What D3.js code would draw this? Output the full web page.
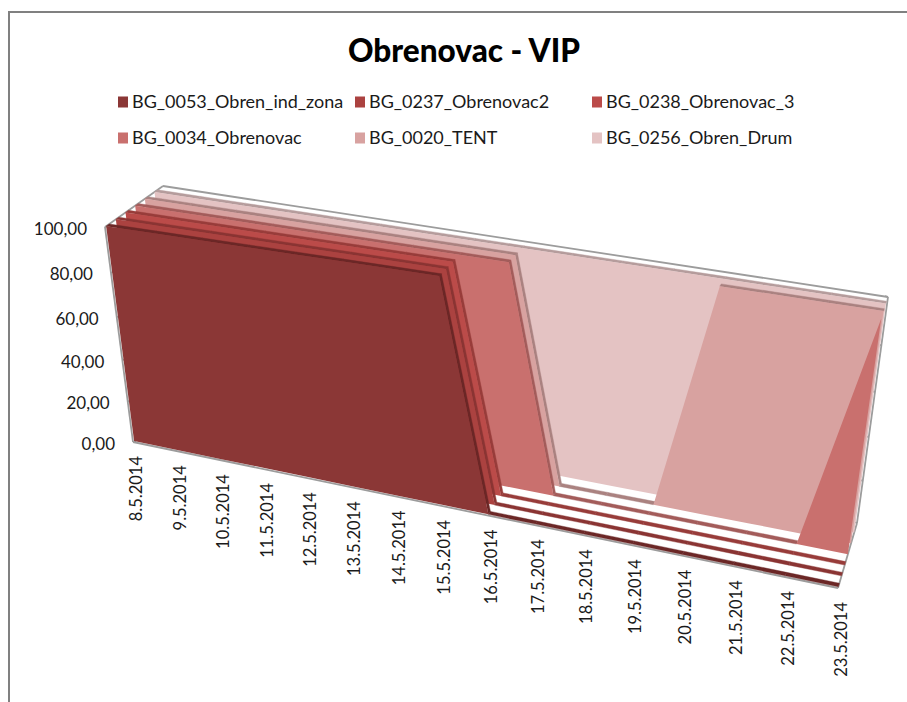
<!DOCTYPE html>
<html><head><meta charset="utf-8">
<script src="https://cdnjs.cloudflare.com/ajax/libs/d3/7.8.5/d3.min.js"></script>
<style>html,body{margin:0;padding:0;background:#fff}svg{display:block}text{font-family:Lato,sans-serif;fill:#1a1a1a}</style>
</head><body><svg id="c" width="907" height="702"></svg>
<script>
const title = "Obrenovac - VIP";
const dates = ["8.5.2014","9.5.2014","10.5.2014","11.5.2014","12.5.2014","13.5.2014","14.5.2014","15.5.2014","16.5.2014","17.5.2014","18.5.2014","19.5.2014","20.5.2014","21.5.2014","22.5.2014","23.5.2014"];
const seriesNames = ["BG_0053_Obren_ind_zona","BG_0237_Obrenovac2","BG_0238_Obrenovac_3","BG_0034_Obrenovac","BG_0020_TENT","BG_0256_Obren_Drum"];
const s0053 = [100,100,100,100,100,100,100,100,0,0,0,0,0,0,0,0];
const s0237 = [100,100,100,100,100,100,100,100,0,0,0,0,0,0,0,0];
const s0238 = [100,100,100,100,100,100,100,100,0,0,0,0,0,0,0,0];
const s0034 = [100,100,100,100,100,100,100,100,100,0,0,0,0,0,0,100];
const s0020 = [100,100,100,100,100,100,100,100,100,0,0,0,100,100,100,100];
const s0256 = [100,100,100,100,100,100,100,100,100,100,100,100,100,100,100,100];
const seriesValues = [s0053,s0237,s0238,s0034,s0020,s0256];
const faceColors = ["#8b3736","#ab4240","#bb4b49","#c9706e","#d8a2a0","#e4c3c3"];
const ridgeColors = ["#6b2726","#8a3433","#983c3a","#a35c5a","#aa8280","#b59c9c"];
const yTicks = [0,20,40,60,80,100];

const svg = d3.select("#c");
// projection corners of the 3D box
const front = {tl:[105,227],tr:[874,342],br:[838,588],bl:[133,442]};
const back  = {tl:[163,186],tr:[888,297],br:[857,523],bl:[188,396]};
const u = d3.scaleLinear().domain([0,dates.length-1]).range([0,1]);
const uNear = d3.scalePow().exponent(0.96).domain([0,1]).range([0,1]);
const v = d3.scaleLinear().domain([0,100]).range([0,1]);
const depth = d3.scaleLinear().domain([0,seriesNames.length]).range([0,1]);
const L=(a,b,t)=>[a[0]+(b[0]-a[0])*t,a[1]+(b[1]-a[1])*t];
function project(i,val,d){
  const w=depth(d), t=1-v(val);
  const s=u(i)+(uNear(u(i))-u(i))*(1-w);
  const p0=L(front.tl,back.tl,w),p1=L(front.tr,back.tr,w),p2=L(front.br,back.br,w),p3=L(front.bl,back.bl,w);
  // square-to-quad homography
  const dx1=p1[0]-p2[0],dx2=p3[0]-p2[0],sx=p0[0]-p1[0]+p2[0]-p3[0];
  const dy1=p1[1]-p2[1],dy2=p3[1]-p2[1],sy=p0[1]-p1[1]+p2[1]-p3[1];
  const den=dx1*dy2-dx2*dy1;
  const g=(sx*dy2-dx2*sy)/den,h=(dx1*sy-sx*dy1)/den;
  const a=p1[0]-p0[0]+g*p1[0],b=p3[0]-p0[0]+h*p3[0],c=p0[0];
  const d2=p1[1]-p0[1]+g*p1[1],e=p3[1]-p0[1]+h*p3[1],f=p0[1];
  const q=g*s+h*t+1;
  return [(a*s+b*t+c)/q,(d2*s+e*t+f)/q];
}
const line=d3.line();
// frame: only the top and left edges of the picture's border are visible
svg.append("path").attr("d","M9,702V12H907").attr("fill","none").attr("stroke","#808080").attr("stroke-width",2);

// title
svg.append("text").attr("x",464).attr("y",62).attr("text-anchor","middle").attr("font-size",31.5).attr("font-weight",900).style("fill","#000").text(title);

// legend
const legX=[118,355,592], legY=[102,138];
seriesNames.forEach((n,i)=>{
  const x=legX[i%3],y=legY[Math.floor(i/3)];
  svg.append("rect").attr("x",x).attr("y",y-5.5).attr("width",10).attr("height",11).attr("fill",faceColors[i]);
  svg.append("text").attr("x",x+14).attr("y",y+6).attr("font-size",18).text(n);
});

// box edges
const axisG=svg.append("g").attr("fill","none").attr("stroke","#9c9c9c").attr("stroke-width",1.8);
const edge=(a,b)=>axisG.append("path").attr("d",line([a,b]));
const last=dates.length-1,N=seriesNames.length;
edge(project(0,100,0),project(0,100,N));
edge(project(0,100,N),project(last,100,N));
edge(project(last,100,N),project(last,0,N));
edge(project(last,0,N),project(last,0,0));
edge(project(0,0,0),project(last,0,0));
edge(project(0,0,0),project(0,100,0));
yTicks.forEach(t=>{
  const p=project(0,t,0); const r=project(last,t,N);
  axisG.append("path").attr("d",line([p,[p[0]+3,p[1]-1]]));
  axisG.append("path").attr("d",line([r,[r[0]-3,r[1]-1]]));
});

// series drawn back to front
const thick=0.32;
const order=d3.range(N).reverse();
order.forEach(k=>{
  const vals=seriesValues[k], z0=k+0.12, z1=z0+thick;
  const g=svg.append("g");
  vals.forEach((val,i)=>{
    if(i===last) return;
    const next=vals[i+1];
    if(next>val) return; // rising top faces away from the viewer
    g.append("polygon").attr("points",[project(i,val,z1),project(i+1,next,z1),project(i+1,next,z0),project(i,val,z0)].join(" ")).attr("fill",ridgeColors[k]).attr("stroke",ridgeColors[k]).attr("stroke-width",.4);
  });
  const top=vals.map((val,i)=>project(i,val,z0));
  const base=vals.map((val,i)=>project(i,0,z0)).reverse();
  g.append("path").attr("d",line(top.concat(base))+"Z").attr("fill",faceColors[k]);
});

// value labels
yTicks.forEach(t=>{
  const p=project(0,t,0);
  svg.append("text").attr("x",p[0]-18).attr("y",p[1]+7.5).attr("text-anchor","end").attr("font-size",17).text(d3.format(".2f")(t).replace(".",","));
});
// date labels
dates.forEach((dl,i)=>{
  const p=project(i,0,0);
  svg.append("text").attr("transform",`translate(${p[0]+9},${p[1]+14}) rotate(-90)`).attr("text-anchor","end").attr("font-size",16.5).text(dl);
});
</script></body></html>
